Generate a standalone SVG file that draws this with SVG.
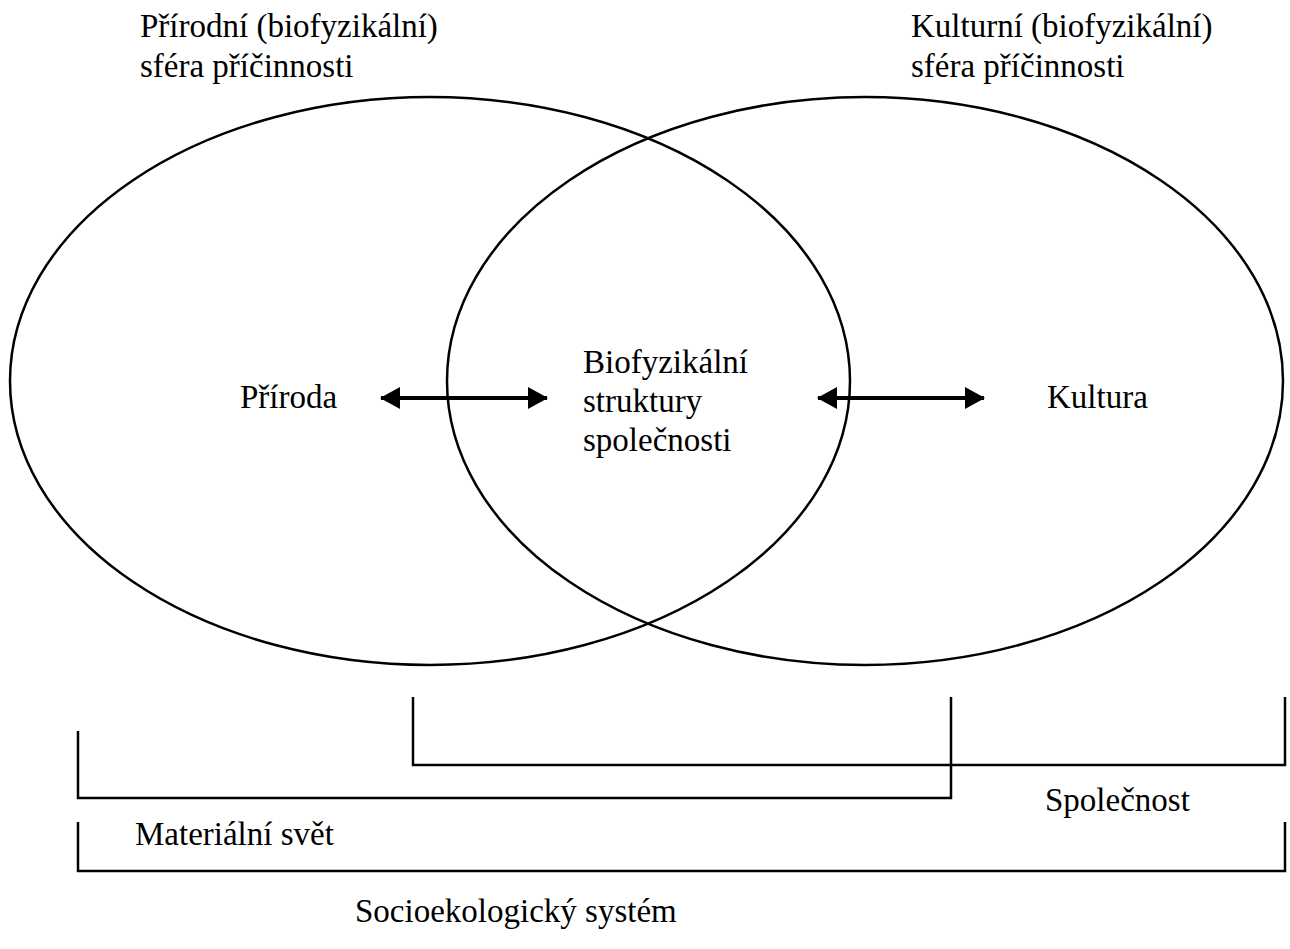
<svg xmlns="http://www.w3.org/2000/svg" width="1290" height="949" viewBox="0 0 1290 949">
<style>
text{font-family:"Liberation Serif","Times New Roman",serif;font-size:33px;fill:#000}
.ln{fill:none;stroke:#000;stroke-width:2.5}
.ar{fill:none;stroke:#000;stroke-width:4}
</style>
<defs>
<marker id="ah2" viewBox="0 0 20 22" refX="19" refY="11" markerWidth="20" markerHeight="22" orient="auto-start-reverse" markerUnits="userSpaceOnUse">
<path d="M0,0 L20,11 L0,22 Z" fill="#000"/>
</marker>
</defs>
<rect width="1290" height="949" fill="#fff"/>
<g id="priroda-sfera">
<ellipse class="ln" cx="430" cy="381" rx="420" ry="284"/>
<text x="140" y="37">Přírodní (biofyzikální)</text>
<text x="140" y="77">sféra příčinnosti</text>
</g>
<g id="kultura-sfera">
<ellipse class="ln" cx="865" cy="381" rx="418" ry="284"/>
<text x="911" y="37">Kulturní (biofyzikální)</text>
<text x="911" y="77">sféra příčinnosti</text>
</g>
<g id="priroda"><text x="240" y="408">Příroda</text></g>
<g id="biofyz">
<text x="583" y="373">Biofyzikální</text>
<text x="583" y="412">struktury</text>
<text x="583" y="451">společnosti</text>
</g>
<g id="kultura"><text x="1047" y="408">Kultura</text></g>
<g id="connectors">
<line class="ar" x1="381" y1="398" x2="547" y2="398" marker-start="url(#ah2)" marker-end="url(#ah2)"/>
<line class="ar" x1="818" y1="398" x2="984" y2="398" marker-start="url(#ah2)" marker-end="url(#ah2)"/>
</g>
<g id="spolecnost">
<path class="ln" d="M413,697 V765 H1285 V697"/>
<text x="1045" y="811">Společnost</text>
</g>
<g id="materialni-svet">
<path class="ln" d="M78,731 V798 H951 V697"/>
<text x="135" y="845">Materiální svět</text>
</g>
<g id="socioekologicky-system">
<path class="ln" d="M78,822 V871 H1285 V822"/>
<text x="355" y="922">Socioekologický systém</text>
</g>
</svg>
